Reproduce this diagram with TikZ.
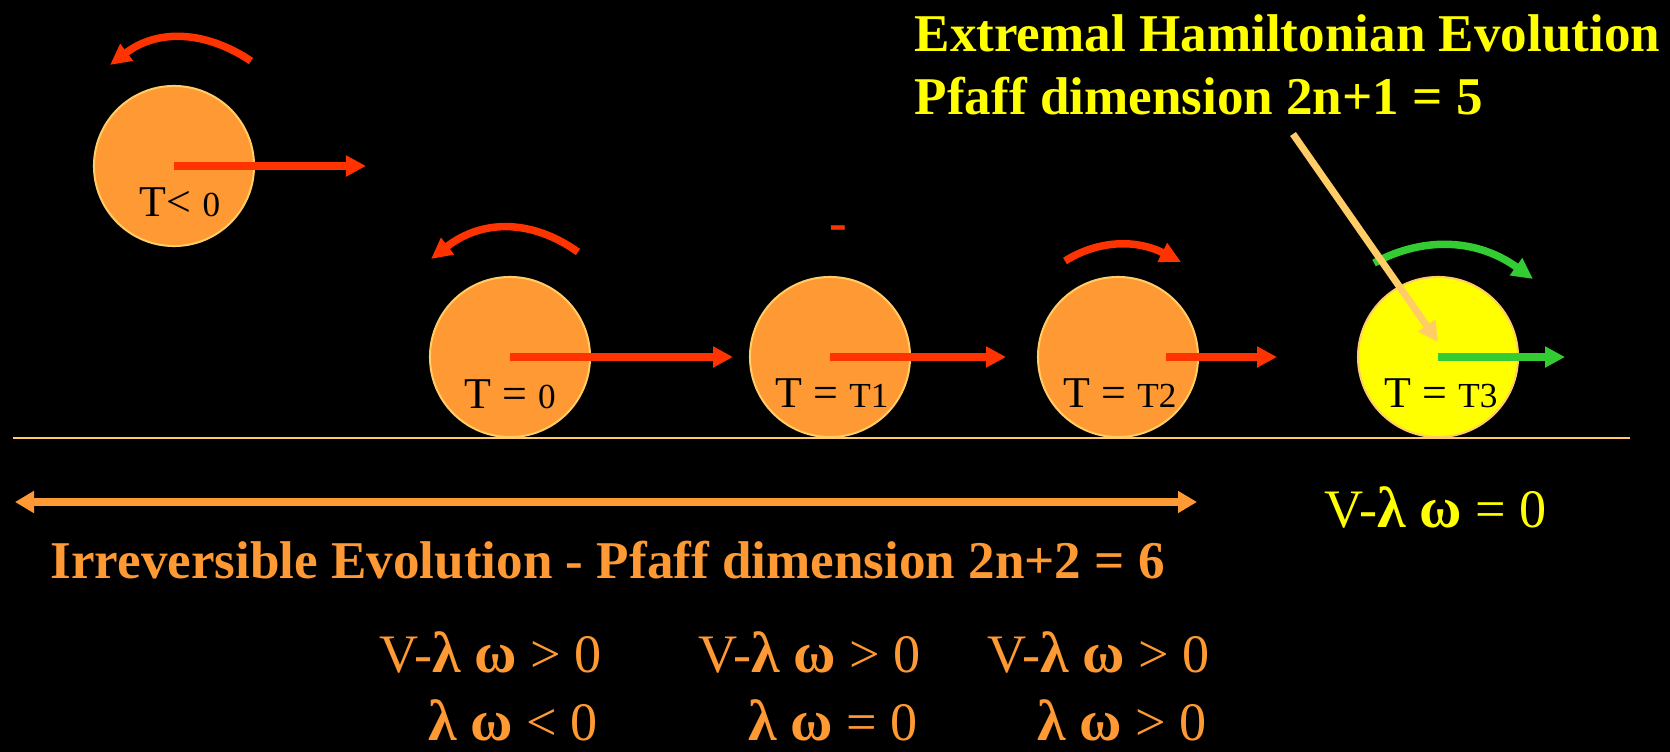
\documentclass[tikz,border=0pt]{standalone}
\usepackage{fontspec}
\setmainfont{Liberation Serif}
\usetikzlibrary{arrows.meta,calc}
\definecolor{BallOrange}{HTML}{FF9933}
\definecolor{Spin}{HTML}{FF3300}
\definecolor{Rim}{HTML}{FFCC66}
\definecolor{Hot}{HTML}{FFFF00}
\definecolor{Leaf}{HTML}{33CC33}
\newcommand{\tsub}[1]{{\fontsize{10pt}{11pt}\selectfont #1}}
\newcommand{\lw}{{\fontsize{16.5pt}{18pt}\selectfont\bfseries λ} {\fontsize{16.5pt}{18pt}\selectfont\bfseries ω}}

\begin{document}
\begin{tikzpicture}[x=0.01cm,y=-0.01cm,
    ball/.style={circle,draw=Rim,line width=0.02cm,minimum size=1.6cm,inner sep=0pt},
    push/.style={line width=0.085cm,-{Triangle[length=0.2cm,width=0.2cm]}},
    spin/.style={line width=0.075cm,-{Triangle[length=0.21cm,width=0.2cm]}},
    tlab/.style={anchor=base,inner sep=0pt,font=\fontsize{12.5pt}{15pt}\selectfont},
    big/.style={inner sep=0pt,font=\fontsize{15.1pt}{18pt}\selectfont\bfseries},
    rel/.style={anchor=base east,inner sep=0pt,font=\fontsize{15.4pt}{18pt}\selectfont}]
        \fill[black] (0,0) rectangle (1670,752);
        % ground and time span
        \draw[Rim,line width=0.025cm] (13,438) -- (1630,438);
        \draw[BallOrange,line width=0.07cm,{Triangle[length=0.19cm,width=0.21cm]}-{Triangle[length=0.19cm,width=0.21cm]}] (15,502) -- (1197,502);
        % balls
        \node[ball,fill=BallOrange] (b0) at (174,166) {};
        \node[ball,fill=BallOrange] (b1) at (510,357) {};
        \node[ball,fill=BallOrange] (b2) at (830,357) {};
        \node[ball,fill=BallOrange] (b3) at (1118,357) {};
        \node[ball,fill=Hot] (b4) at (1438,357) {};
        \node[tlab] (t0) at (180,217) {T< \tsub{0}};
        \node[tlab] (t1) at (510,409) {T = \tsub{0}};
        \node[tlab] (t2) at (832,408) {T = \tsub{T1}};
        \node[tlab] (t3) at (1120,408) {T = \tsub{T2}};
        \node[tlab] (t4) at (1441,408) {T = \tsub{T3}};
        % velocity
        \coordinate (p0) at (366,166);
        \coordinate (p1) at (733,357);
        \coordinate (p2) at (1006,357);
        \coordinate (p3) at (1277,357);
        \coordinate (p4) at (1565,357);
        \draw[push,Spin] (b0.center) -- (p0);
        \draw[push,Spin] (b1.center) -- (p1);
        \draw[push,Spin] (b2.center) -- (p2);
        \draw[push,Spin] ([xshift=0.48cm]b3.center) -- (p3);
        \draw[push,Leaf] (b4.center) -- (p4);
        % spin
        \draw[spin,Spin] (251,61) .. controls (203,29) and (156,30) .. (110,65);
        \draw[spin,Spin] (578,252) .. controls (530,218) and (481,220) .. (431,259);
        \node[big,Spin,anchor=base] (nospin) at (838,241) {-};
        \draw[spin,Spin] (1065,261) .. controls (1100,239) and (1138,240) .. (1181,262);
        \draw[spin,Leaf] (1374,263) .. controls (1426,235) and (1479,240) .. (1533,279);
        % labels
        \node[big,anchor=base west,text=Hot] (ham1) at (914,52) {Extremal Hamiltonian Evolution};
        \node[big,anchor=base west,text=Hot] (ham2) at (914,115) {Pfaff dimension 2n+1 = 5};
        \coordinate (ptr) at (1293,134);
        \draw[Rim,line width=0.07cm,-{Triangle[length=0.2cm,width=0.2cm]}] (ptr) -- ([yshift=0.15cm]b4.center);
        \node[big,anchor=base west,text=BallOrange] (irr) at (50,578) {Irreversible Evolution - Pfaff dimension 2n+2 = 6};
        \node[rel,text=Hot] (veq) at (1547,527) {V-\lw{} = 0};
        \foreach \xa/\xb/\rl [count=\i] in {602/598/<,921/918/=,1210/1207/>} {
            \node[rel,text=BallOrange] (vg\i) at (\xa,672) {V-\lw{} > 0};
            \node[rel,text=BallOrange] (lw\i) at (\xb,740) {\lw{} \rl{} 0};
        }
\end{tikzpicture}
\end{document}
